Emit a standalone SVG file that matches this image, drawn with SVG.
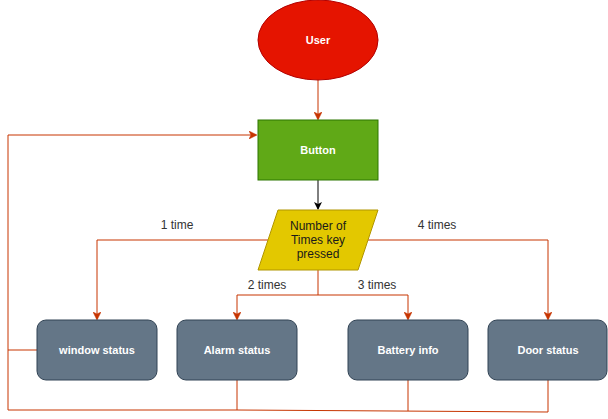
<svg xmlns="http://www.w3.org/2000/svg" width="608" height="419" viewBox="0 0 608 419">
<style>
.lbl{font-family:"Liberation Sans",Arial,sans-serif;font-size:12px;fill:#333333;text-anchor:middle}
.ntxt{font-family:"Liberation Sans",Arial,sans-serif;font-size:11px;font-weight:bold;fill:#ffffff;text-anchor:middle}
.dtxt{font-family:"Liberation Sans",Arial,sans-serif;font-size:12px;fill:#1a1a1a;text-anchor:middle}
.e{fill:none;stroke:#C73500;stroke-width:1}
.status{fill:#647687;stroke:#314354;stroke-width:1}
</style>
<defs>
<marker id="ar" markerWidth="8" markerHeight="8" refX="7" refY="4" orient="auto" markerUnits="userSpaceOnUse">
<path d="M0,0 L8,4 L0,8 L2,4 Z" fill="#C73500" stroke="#C73500" stroke-width="0.5"/>
</marker>
<marker id="ak" markerWidth="8" markerHeight="8" refX="7" refY="4" orient="auto" markerUnits="userSpaceOnUse">
<path d="M0,0 L8,4 L0,8 L2,4 Z" fill="#000000"/>
</marker>
</defs>
<g id="connectors">
<path class="e" d="M318,80 V119" marker-end="url(#ar)"/>
<path d="M318,180 V209" fill="none" stroke="#000000" marker-end="url(#ak)"/>
<path class="e" d="M268,240 H97 V319" marker-end="url(#ar)"/>
<path class="e" d="M368,240 H548 V319" marker-end="url(#ar)"/>
<path class="e" d="M318,270 V295 H237 V319" marker-end="url(#ar)"/>
<path class="e" d="M318,295 H408 V319" marker-end="url(#ar)"/>
<path class="e" d="M37,350 H8"/>
<path class="e" d="M237,380 V410"/>
<path class="e" d="M408,380 V411"/>
<path class="e" d="M548,380 V412 L237,410 H8 V135 H256" marker-end="url(#ar)"/>
<text class="lbl" x="177" y="229">1 time</text>
<text class="lbl" x="437" y="229">4 times</text>
<text class="lbl" x="267" y="289">2 times</text>
<text class="lbl" x="377" y="289">3 times</text>
</g>
<g id="user">
<ellipse cx="318" cy="40" rx="60" ry="40" fill="#e51400" stroke="#b20000"/>
<text class="ntxt" x="318" y="44">User</text>
</g>
<g id="button">
<rect x="258" y="120" width="120" height="60" fill="#60a917" stroke="#2d7600"/>
<text class="ntxt" x="318" y="154">Button</text>
</g>
<g id="decision">
<polygon points="278,210 378,210 358,270 258,270" fill="#e3c800" stroke="#b09500"/>
<text class="dtxt" x="318" y="230">Number of</text>
<text class="dtxt" x="318" y="244">Times key</text>
<text class="dtxt" x="318" y="258">pressed</text>
</g>
<g id="window-status">
<rect class="status" x="37" y="320" width="120" height="60" rx="9" ry="9"/>
<text class="ntxt" x="97" y="354">window status</text>
</g>
<g id="alarm-status">
<rect class="status" x="177" y="320" width="120" height="60" rx="9" ry="9"/>
<text class="ntxt" x="237" y="354">Alarm status</text>
</g>
<g id="battery-info">
<rect class="status" x="348" y="320" width="120" height="60" rx="9" ry="9"/>
<text class="ntxt" x="408" y="354">Battery info</text>
</g>
<g id="door-status">
<rect class="status" x="488" y="320" width="119" height="60" rx="9" ry="9"/>
<text class="ntxt" x="548" y="354">Door status</text>
</g>
</svg>
